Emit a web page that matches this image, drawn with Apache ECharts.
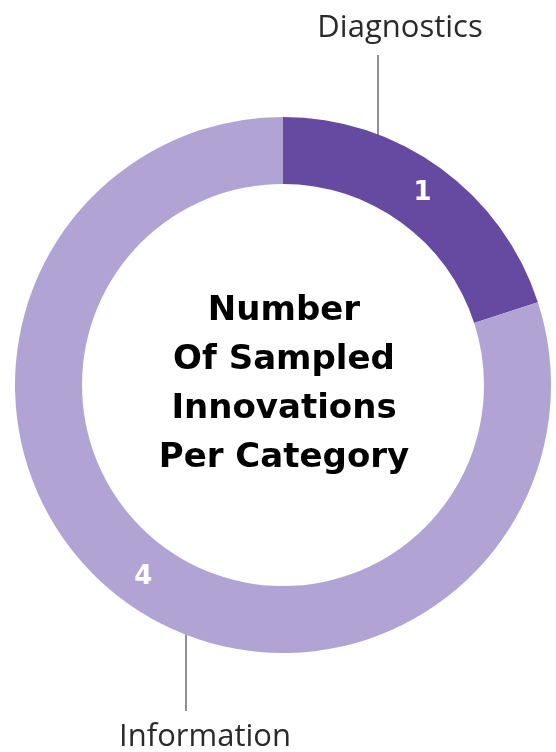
<!DOCTYPE html>
<html>
<head>
<meta charset="utf-8">
<script src="https://cdn.jsdelivr.net/npm/echarts@6/dist/echarts.min.js"></script>
<style>
  html, body { margin: 0; padding: 0; background: #fff; }
  #donut { width: 556px; height: 752px; }
</style>
</head>
<body>
<div id="donut"></div>
<script>
// 分类 / 数值
const categories = ["Diagnostics", "Information"];
const counts = [1, 4];
const sliceColors = ["#6649a1", "#b1a3d4"];
const centerTitle = ["Number", "Of Sampled", "Innovations", "Per Category"];

// 名称标签的位置（像素），以及引导线
const nameLabelPos = [
  { x: 400, y: 28, lineX: 378, lineTop: 55, lineBottom: 147 },
  { x: 205, y: 737, lineX: 186, lineTop: 617, lineBottom: 711 }
];

const pieData = categories.map(function (name, i) {
  return { name: name, value: counts[i], itemStyle: { color: sliceColors[i] } };
});

let myChart = echarts.init(document.getElementById("donut"));

const optionData = {
  animation: false,
  title: {
    text: centerTitle.join("\n"),
    left: 279,
    top: 282,
    textAlign: "center",
    textStyle: {
      fontFamily: "DejaVu Sans",
      fontWeight: "bold",
      fontSize: 34,
      lineHeight: 49,
      color: "#000"
    }
  },
  series: [
    {
      // 环形图 + 内部数值
      type: "pie",
      center: [283, 385],
      radius: [201, 268],
      startAngle: 90,
      silent: true,
      avoidLabelOverlap: false,
      label: {
        show: true,
        position: "inside",
        formatter: "{c}",
        color: "#fff",
        fontFamily: "DejaVu Sans",
        fontWeight: "bold",
        fontSize: 26
      },
      labelLine: { show: false },
      data: pieData
    },
    {
      // 透明的一层，只用来放名称和引导线
      type: "pie",
      center: [283, 385],
      radius: [201, 268],
      startAngle: 90,
      silent: true,
      avoidLabelOverlap: false,
      itemStyle: { color: "transparent" },
      label: {
        show: true,
        position: "outside",
        formatter: "{b}",
        color: "#2a2a2a",
        fontFamily: "Open Sans",
        fontWeight: 400,
        fontSize: 31
      },
      labelLine: {
        show: true,
        lineStyle: { color: "#222", width: 1 }
      },
      labelLayout: function (params) {
        const p = nameLabelPos[params.dataIndex];
        return {
          x: p.x,
          y: p.y,
          align: "center",
          verticalAlign: "middle",
          labelLinePoints: [
            [p.lineX, p.lineTop],
            [p.lineX, (p.lineTop + p.lineBottom) / 2],
            [p.lineX, p.lineBottom]
          ]
        };
      },
      data: categories.map(function (name, i) {
        return { name: name, value: counts[i] };
      })
    }
  ]
};

myChart.setOption(optionData);
window.addEventListener("resize", function () {
  myChart.resize();
});
</script>
</body>
</html>
